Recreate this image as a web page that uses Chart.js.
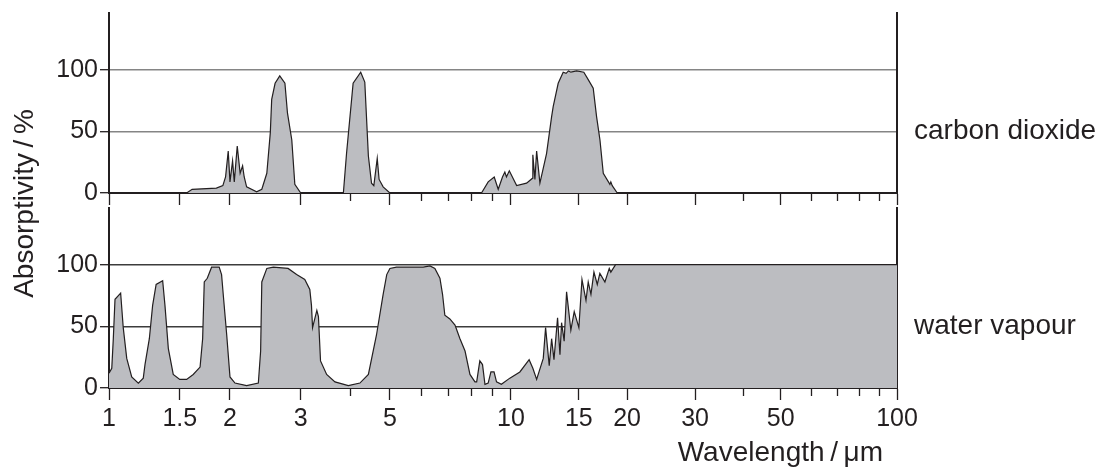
<!DOCTYPE html>
<html>
<head>
<meta charset="utf-8">
<script src="https://cdn.jsdelivr.net/npm/chart.js@4.4.1/dist/chart.umd.min.js"></script>
<style>
  body { margin: 0; background: #fff; }
  #wrap { position: relative; width: 1106px; height: 468px; }
  #wrap canvas { position: absolute; left: 0; top: 0; }
</style>
</head>
<body>
<div id="wrap">
  <canvas id="co2Canvas" width="1106" height="468"></canvas>
  <canvas id="waterCanvas" width="1106" height="468"></canvas>
</div>
<script>
// wavelength in µm, absorptivity in %
var co2Wavelength = [
  1.56, 1.61, 1.85, 1.92, 1.95, 1.98, 2.0, 2.03, 2.05, 2.085,
  2.12, 2.15, 2.17, 2.2, 2.33, 2.4, 2.47, 2.52, 2.54, 2.59,
  2.66, 2.74, 2.78, 2.85, 2.9, 3.0, 3.83, 3.9, 4.05, 4.23,
  4.33, 4.42, 4.5, 4.56, 4.65, 4.7, 4.81, 5.0, 8.45, 8.78,
  9.09, 9.3, 9.53, 9.66, 9.75, 9.91, 10.35, 10.98, 11.38, 11.4,
  11.54, 11.66, 11.89, 12.37, 12.75, 12.87, 13.26, 13.66, 13.9, 14.1,
  14.3, 14.8, 15.45, 15.86, 16.34, 16.67, 17.01, 17.35, 18.05, 18.15,
  18.3, 18.86
];
var co2Absorptivity = [
  0, 3, 4, 6, 13, 34, 9, 26, 9, 38,
  16, 22, 13, 5, 1, 3, 16, 49, 76, 89,
  95, 89, 65, 43, 7, 0, 0, 32, 89, 98,
  90, 30, 8, 6, 28, 11, 5, 0, 0, 9,
  13, 3, 13, 17, 13, 18, 6, 8, 12, 31,
  11, 34, 8, 32, 62, 70, 89, 98, 97, 99,
  98, 99, 98, 92, 85, 62, 43, 16, 7, 9,
  6, 0
];

var waterWavelength = [
  1.0, 1.016, 1.025, 1.035, 1.069, 1.085, 1.107, 1.139, 1.183, 1.217,
  1.229, 1.26, 1.284, 1.31, 1.36, 1.378, 1.405, 1.445, 1.5, 1.56,
  1.62, 1.685, 1.71, 1.726, 1.756, 1.8, 1.88, 1.906, 1.924, 1.963,
  2.0, 2.058, 2.2, 2.353, 2.384, 2.4, 2.47, 2.563, 2.79, 2.93,
  3.07, 3.16, 3.19, 3.21, 3.29, 3.32, 3.36, 3.48, 3.65, 3.94,
  4.21, 4.42, 4.63, 4.81, 4.91, 5.0, 5.19, 6.05, 6.29, 6.47,
  6.66, 6.76, 6.85, 7.05, 7.26, 7.47, 7.69, 7.91, 8.14, 8.22,
  8.37, 8.5, 8.62, 8.78, 8.92, 9.08, 9.21, 9.47, 9.94, 10.55,
  11.15, 11.4, 11.66, 12.13, 12.3, 12.57, 12.75, 12.93, 13.21, 13.4,
  13.53, 13.74, 13.94, 14.3, 14.59, 15.0, 15.28, 15.65, 15.86, 16.12,
  16.41, 16.74, 17.0, 17.52, 17.98, 18.15, 18.67, 100
];
var waterAbsorptivity = [
  12, 16, 40, 72, 77, 49, 24, 9, 4, 8,
  19, 40, 67, 84, 87, 67, 32, 11, 7, 7,
  11, 17, 40, 86, 89, 98, 98, 92, 76, 43,
  9, 4, 2, 4, 30, 86, 97, 98, 97, 92,
  88, 80, 67, 49, 63, 58, 22, 11, 5, 2,
  4, 11, 43, 76, 92, 97, 98, 98, 99, 97,
  89, 76, 59, 56, 51, 40, 30, 11, 5, 5,
  22, 19, 3, 4, 13, 13, 5, 3, 8, 13,
  23, 16, 7, 24, 49, 18, 40, 23, 57, 27,
  53, 38, 78, 47, 62, 49, 88, 71, 86, 76,
  94, 84, 93, 86, 97, 94, 100, 100
];

var majorTicks = [1, 1.5, 2, 3, 5, 10, 15, 20, 30, 50, 100];
var minorTicks = [4, 6, 7, 8, 9, 40, 60, 70, 80, 90];
var yTicks = [0, 50, 100];
var panelLabels = ['carbon dioxide', 'water vapour'];

var FONT = '"Liberation Sans", Arial, Helvetica, sans-serif';
var INK = '#231f20';
var FILL = '#bcbdc1';
var FIRST_DECADE = 0.51;   // printed axis gives 1–10 µm slightly more room than 10–100 µm

Chart.defaults.font.family = FONT;
Chart.defaults.color = INK;

class SplitLogScale extends Chart.LogarithmicScale {
  getPixelForValue(value) {
    var l = Math.log10(value);
    var d = l <= 1 ? l * FIRST_DECADE : FIRST_DECADE + (l - 1) * (1 - FIRST_DECADE);
    return this.getPixelForDecimal(d);
  }
  getValueForPixel(pixel) {
    var d = this.getDecimalForPixel(pixel);
    var l = d <= FIRST_DECADE ? d / FIRST_DECADE : 1 + (d - FIRST_DECADE) / (1 - FIRST_DECADE);
    return Math.pow(10, l);
  }
}
SplitLogScale.id = 'splitLog';
Chart.register(SplitLogScale);

var allXTicks = majorTicks.concat(minorTicks).sort(function(a, b) { return a - b; });

// fixed axis sizes, and no extra room for half-labels sticking out
function fixSize(prop, size) {
  return function(s) {
    s[prop] = size;
    s.paddingTop = s.paddingBottom = s.paddingLeft = s.paddingRight = 0;
  };
}

function makePanel(canvasId, wavelength, absorptivity, label, isBottom, gridColor, plugins) {
  var points = wavelength.map(function(w, i) { return {x: w, y: absorptivity[i]}; });
  return new Chart(document.getElementById(canvasId), {
    type: 'line',
    data: {
      datasets: [{
        data: points,
        borderColor: INK,
        borderWidth: 1.2,
        backgroundColor: FILL,
        fill: 'origin',
        pointRadius: 0,
        tension: 0
      }]
    },
    plugins: plugins || [],
    options: {
      responsive: false,
      animation: false,
      events: [],
      layout: { padding: isBottom ? {top: 208, bottom: 0} : {top: 13, bottom: 263} },
      plugins: { legend: { display: false }, tooltip: { enabled: false } },
      scales: {
        x: {
          type: 'splitLog',
          min: 1,
          max: 100,
          z: 1,
          afterBuildTicks: function(s) { s.ticks = allXTicks.map(function(v) { return {value: v}; }); },
          afterFit: fixSize('height', isBottom ? 80 : 12),
          border: { display: true, color: INK, width: 2 },
          grid: {
            drawOnChartArea: false,
            tickLength: 12,
            tickWidth: 1.3,
            tickColor: INK,
            tickBorderDash: function(ctx) {
              return ctx.tick && minorTicks.indexOf(ctx.tick.value) >= 0 ? [7, 30] : [];
            }
          },
          ticks: {
            display: isBottom,
            autoSkip: false,
            maxRotation: 0,
            padding: 4,
            font: { size: 25 },
            color: INK,
            callback: function(v) { return majorTicks.indexOf(v) >= 0 ? String(v) : ''; }
          },
          title: {
            display: isBottom,
            text: 'Wavelength\u2009/\u2009\u03bcm\u2002',
            align: 'end',
            font: { size: 28 },
            color: INK,
            padding: { top: 0, bottom: -2 }
          }
        },
        y: {
          min: 0,
          max: 146,
          z: 1,
          afterBuildTicks: function(s) { s.ticks = yTicks.map(function(v) { return {value: v}; }); },
          afterFit: fixSize('width', 109),
          border: { display: true, color: INK, width: 2 },
          grid: { color: gridColor, lineWidth: 1.4, tickLength: 9, tickColor: INK, tickWidth: 1.3 },
          ticks: { padding: 2, font: { size: 25 }, color: INK }
        },
        yr: {
          position: 'right',
          min: 0,
          max: 146,
          z: 1,
          afterBuildTicks: function(s) { s.ticks = [{value: 50}]; },
          afterFit: fixSize('width', 209),
          border: { display: true, color: INK, width: 2 },
          grid: { display: false, drawTicks: false },
          ticks: { padding: 17, font: { size: 28 }, color: INK, callback: function() { return label; } }
        }
      }
    }
  });
}

var co2Chart = makePanel('co2Canvas', co2Wavelength, co2Absorptivity, panelLabels[0], false, '#858585');

// y title spans both panels, so draw it once on the lower canvas
var sharedYTitle = {
  id: 'sharedYTitle',
  afterDraw: function(chart) {
    var ctx = chart.ctx;
    var mid = (co2Chart.chartArea.top + chart.chartArea.bottom) / 2 + 3;
    ctx.save();
    ctx.translate(25, mid);
    ctx.rotate(-Math.PI / 2);
    ctx.font = '28px ' + FONT;
    ctx.fillStyle = INK;
    ctx.textAlign = 'center';
    ctx.textBaseline = 'middle';
    ctx.fillText('Absorptivity\u2009/\u2009%', 0, 0);
    ctx.restore();
  }
};

var waterChart = makePanel('waterCanvas', waterWavelength, waterAbsorptivity, panelLabels[1], true, '#3c3c3c', [sharedYTitle]);
</script>
</body>
</html>
